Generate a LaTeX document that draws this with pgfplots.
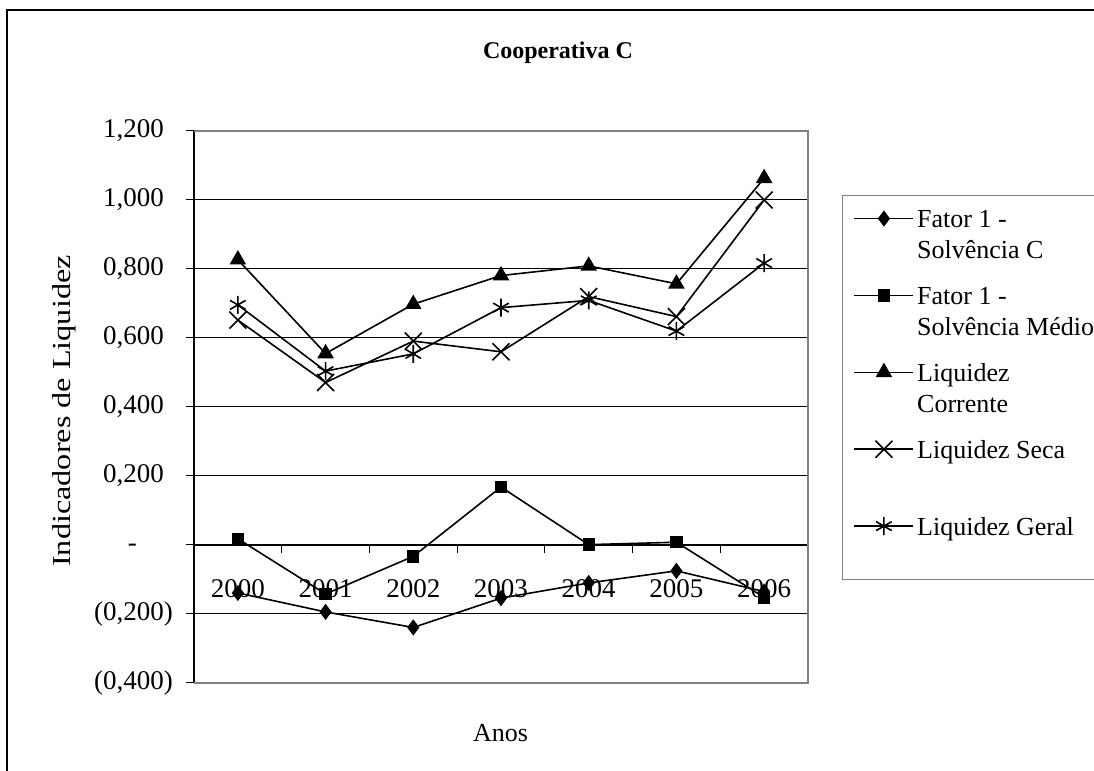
\documentclass[border=0pt]{standalone}
\usepackage{graphicx}
\usepackage{pgfplots}
\pgfplotsset{compat=1.18}
\usepackage{fontspec}
\setmainfont{Liberation Serif}
\newcommand{\lgt}[2]{\begin{tabular}[b]{@{}l@{}}#1\\#2\end{tabular}}

\pgfplotstableread{
x  fc      fm      lc     ls     lg
0  -0.139  0.018   0.827  0.652  0.696
1  -0.194  -0.142  0.555  0.471  0.504
2  -0.239  -0.033  0.698  0.591  0.554
3  -0.154  0.168   0.781  0.560  0.688
4  -0.110  0.001   0.809  0.720  0.709
5  -0.075  0.008   0.757  0.662  0.620
6  -0.135  -0.152  1.063  1.000  0.817
}\data

\begin{document}
\begin{tikzpicture}
\useasboundingbox (0,0) rectangle (547pt,385.5pt);
\fill[white] (0,0) rectangle (547pt,385.5pt);
\draw[line width=0.6pt] (3.5pt,-5pt) -- (3.5pt,380.5pt) -- (560pt,380.5pt);
\node[font=\fontsize{12}{14}\selectfont\bfseries, anchor=base] at (279pt,356pt) {Cooperativa C};
\node[font=\fontsize{13}{15.5}\selectfont, rotate=90, anchor=base] at (35pt,180pt) {\scalebox{1.24}[1]{Indicadores de Liquidez}};
\node[font=\fontsize{13}{15.5}\selectfont, anchor=base] at (250.25pt,14.5pt) {Anos};
\begin{axis}[
  at={(97pt,44pt)}, anchor=south west, scale only axis,
  width=307pt, height=276pt,
  xmin=-0.5, xmax=6.5, ymin=-0.4, ymax=1.2,
  axis x line*=middle, axis y line*=left,
  axis line style={black, line width=0.6pt},
  ytick={-0.4,-0.2,0,0.2,0.4,0.6,0.8,1.0,1.2},
  yticklabels={{(0,400)},{(0,200)},{-\phantom{00)}},{0,200\phantom{)}},{0,400\phantom{)}},{0,600\phantom{)}},{0,800\phantom{)}},{1,000\phantom{)}},{1,200\phantom{)}}},
  xtick={0.5,1.5,2.5,3.5,4.5,5.5},
  xticklabels={},
  extra x ticks={0,1,2,3,4,5,6},
  extra x tick labels={2000,2001,2002,2003,2004,2005,2006},
  extra x tick style={major tick length=0pt, tick label style={anchor=base, yshift=-26.5pt}},
  tick align=outside,
  major tick length=4pt,
  tick style={black, line width=0.5pt},
  ymajorgrids,
  grid style={black, line width=0.5pt},
  tick label style={font=\fontsize{13.5}{16}\selectfont},
  yticklabel style={anchor=east, xshift=-3pt},
  clip=false,
  legend style={at={(1.0554,0.884)}, anchor=north west, draw=gray, line width=0.6pt,
    font=\fontsize{13}{15.5}\selectfont, cells={anchor=base west},
    inner xsep=5.5pt, inner ysep=1.8pt, column sep=1.5pt, row sep=4pt,
    nodes={inner xsep=0pt, inner ysep=3.3pt}},
  legend image code/.code={\draw[mark repeat=2,mark phase=2,#1] plot coordinates {(0pt,20pt) (14.75pt,20pt) (29.5pt,20pt)};},
  every axis plot/.append style={black, line width=0.8pt},
]
\draw[gray, line width=0.6pt] (rel axis cs:0,0) -- (rel axis cs:1,0) -- (rel axis cs:1,1) -- (rel axis cs:0,1);
\addplot[mark=diamond*, mark size=3.4pt, mark options={solid, fill=black}] table[x=x,y=fc] {\data};
\addlegendentry{\lgt{Fator 1 -}{Solvência C}}
\addplot[mark=square*, mark size=2.7pt, mark options={solid, fill=black}] table[x=x,y=fm] {\data};
\addlegendentry{\lgt{Fator 1 -}{Solvência Médio}}
\addplot[mark=triangle*, mark size=4pt, mark options={solid, fill=black}] table[x=x,y=lc] {\data};
\addlegendentry{\lgt{Liquidez}{Corrente}}
\addplot[mark=x, mark size=6pt, mark options={solid}] table[x=x,y=ls] {\data};
\addlegendentry{\lgt{Liquidez Seca}{\strut}}
\addplot[mark=asterisk, mark size=4.5pt, mark options={solid}] table[x=x,y=lg] {\data};
\addlegendentry{\lgt{Liquidez Geral}{\strut}}
\end{axis}
\end{tikzpicture}
\end{document}
